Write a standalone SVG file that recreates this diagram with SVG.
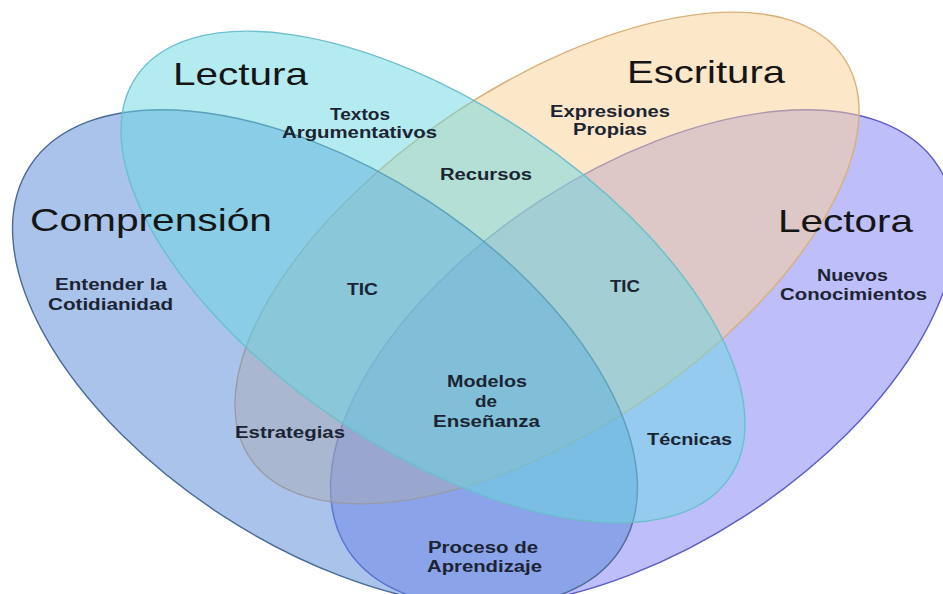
<svg xmlns="http://www.w3.org/2000/svg" width="943" height="594" viewBox="0 0 943 594">
<style>
.set{fill-opacity:0.5;stroke-width:1.4}
.title{font-family:"Liberation Sans",Arial,sans-serif;font-size:32px;fill:#151515}
.lbl{font-family:"Liberation Sans",Arial,sans-serif;font-size:16px;font-weight:bold;fill:#1c2433}
</style>
<rect width="943" height="594" fill="#ffffff"/>
<g id="node-lectora">
<ellipse class="set" cx="643" cy="358" rx="352" ry="188" transform="rotate(-33 643 358)" fill="#7d7df5" stroke="#5c5cc8"/>
</g>
<g id="node-escritura">
<ellipse class="set" cx="547" cy="258" rx="358" ry="172" transform="rotate(-34 547 258)" fill="#fbcf93" stroke="#d9b07a"/>
</g>
<g id="node-comprension">
<ellipse class="set" cx="325" cy="358" rx="352" ry="188" transform="rotate(33 325 358)" fill="#5587d7" stroke="#4a6a98"/>
</g>
<g id="node-lectura">
<ellipse class="set" cx="433" cy="277" rx="358" ry="172" transform="rotate(34 433 277)" fill="#69d7e1" stroke="#6cbfcc"/>
</g>
<g id="titles">
<text class="title" x="173" y="85" textLength="135" lengthAdjust="spacingAndGlyphs">Lectura</text>
<text class="title" x="627" y="83" textLength="158" lengthAdjust="spacingAndGlyphs">Escritura</text>
<text class="title" x="30" y="231" textLength="242" lengthAdjust="spacingAndGlyphs">Comprensión</text>
<text class="title" x="778" y="232" textLength="135" lengthAdjust="spacingAndGlyphs">Lectora</text>
</g>
<g id="region-labels">
<text class="lbl" x="330" y="120" textLength="60" lengthAdjust="spacingAndGlyphs">Textos</text>
<text class="lbl" x="282" y="138" textLength="155" lengthAdjust="spacingAndGlyphs">Argumentativos</text>
<text class="lbl" x="550" y="117" textLength="120" lengthAdjust="spacingAndGlyphs">Expresiones</text>
<text class="lbl" x="573" y="135" textLength="74" lengthAdjust="spacingAndGlyphs">Propias</text>
<text class="lbl" x="440" y="180" textLength="92" lengthAdjust="spacingAndGlyphs">Recursos</text>
<text class="lbl" x="347" y="295" textLength="31" lengthAdjust="spacingAndGlyphs">TIC</text>
<text class="lbl" x="610" y="292" textLength="30" lengthAdjust="spacingAndGlyphs">TIC</text>
<text class="lbl" x="55" y="290" textLength="112" lengthAdjust="spacingAndGlyphs">Entender la</text>
<text class="lbl" x="48" y="310" textLength="125" lengthAdjust="spacingAndGlyphs">Cotidianidad</text>
<text class="lbl" x="817" y="281" textLength="71" lengthAdjust="spacingAndGlyphs">Nuevos</text>
<text class="lbl" x="780" y="300" textLength="147" lengthAdjust="spacingAndGlyphs">Conocimientos</text>
<text class="lbl" x="447" y="387" textLength="80" lengthAdjust="spacingAndGlyphs">Modelos</text>
<text class="lbl" x="475" y="407" textLength="22" lengthAdjust="spacingAndGlyphs">de</text>
<text class="lbl" x="433" y="427" textLength="107" lengthAdjust="spacingAndGlyphs">Enseñanza</text>
<text class="lbl" x="235" y="438" textLength="110" lengthAdjust="spacingAndGlyphs">Estrategias</text>
<text class="lbl" x="647" y="445" textLength="85" lengthAdjust="spacingAndGlyphs">Técnicas</text>
<text class="lbl" x="428" y="553" textLength="110" lengthAdjust="spacingAndGlyphs">Proceso de</text>
<text class="lbl" x="427" y="572" textLength="115" lengthAdjust="spacingAndGlyphs">Aprendizaje</text>
</g>
</svg>
